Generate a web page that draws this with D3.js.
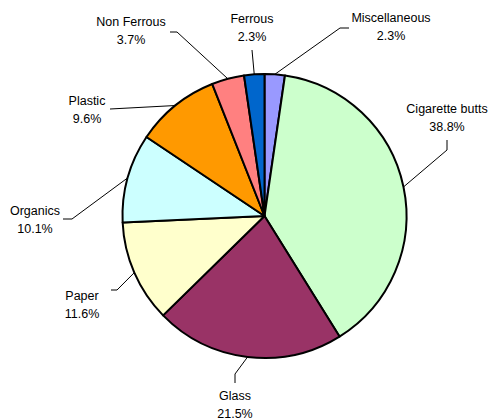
<!DOCTYPE html>
<html><head><meta charset="utf-8">
<script src="https://cdn.jsdelivr.net/npm/d3@7"></script>
<style>body{margin:0;background:#fff}svg{display:block}</style>
</head><body>
<svg id="chart" width="490" height="419"></svg>
<script>
const categories = ["Miscellaneous","Cigarette butts","Glass","Paper","Organics","Plastic","Non Ferrous","Ferrous"];
const values = [2.3,38.8,21.5,11.6,10.1,9.6,3.7,2.3];
const valueLabels = ["2.3%","38.8%","21.5%","11.6%","10.1%","9.6%","3.7%","2.3%"];
const colors = ["#9999FF","#CCFFCC","#993366","#FFFFCC","#CCFFFF","#FF9900","#FF8080","#0066CC"];

// layout: label centre and leader-line path (elbow, end) per slice
const layout = {
  "Miscellaneous":  {lx:391, ly:17, elbow:[340,28], end:[349,28]},
  "Cigarette butts":{lx:447, ly:108, elbow:[447,150], end:[447,140]},
  "Glass":          {lx:235, ly:395, elbow:[235,374], end:[235,383]},
  "Paper":          {lx:82,  ly:295, elbow:[117,290], end:[111,290]},
  "Organics":       {lx:35,  ly:210, elbow:[72,219], end:[63,219]},
  "Plastic":        {lx:87,  ly:100, elbow:[110,109], end:[110,109]},
  "Non Ferrous":    {lx:131, ly:21, elbow:[177,32], end:[170,32]},
  "Ferrous":        {lx:252, ly:18, elbow:[252,50], end:[252,50]}
};

const svg = d3.select("#chart");
const cx = 264.5, cy = 216, r = 142;
const data = categories.map((c,i)=>({name:c, value:values[i], label:valueLabels[i], color:colors[i]}));
const pie = d3.pie().value(d=>d.value).sort(null);
const arcs = pie(data);
const arc = d3.arc().innerRadius(0).outerRadius(r);
const g = svg.append("g").attr("transform",`translate(${cx},${cy})`);
g.selectAll("path").data(arcs).join("path")
  .attr("d",arc).attr("fill",d=>d.data.color)
  .attr("stroke","#000").attr("stroke-width",2).attr("stroke-linejoin","round");

// leader lines
arcs.forEach(a=>{
  const m = (a.startAngle+a.endAngle)/2;
  const p0 = [cx + r*Math.sin(m), cy - r*Math.cos(m)];
  const L = layout[a.data.name];
  svg.append("path")
    .attr("d", d3.line()([p0, L.elbow, L.end]))
    .attr("fill","none").attr("stroke","#000").attr("stroke-width",1);
  const t = svg.append("text").attr("text-anchor","middle")
    .attr("font-family","Liberation Sans, Arial, sans-serif").attr("font-size",12.5).attr("fill","#000");
  t.append("tspan").attr("x",L.lx).attr("y",L.ly+4.5).text(a.data.name);
  t.append("tspan").attr("x",L.lx).attr("y",L.ly+22.5).text(a.data.label);
});
</script>
</body></html>
